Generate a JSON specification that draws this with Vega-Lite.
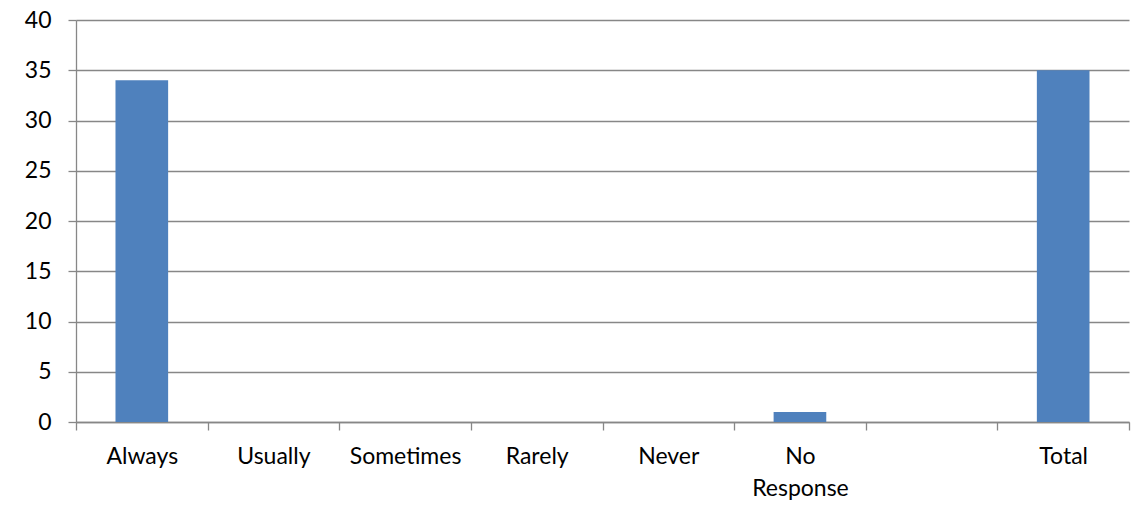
{
  "$schema": "https://vega.github.io/schema/vega-lite/v6.json",
  "width": 1053,
  "height": 402,
  "autosize": {"type": "none"},
  "padding": {"left": 76, "top": 20, "right": 16, "bottom": 95},
  "background": "white",
  "config": {"view": {"stroke": null}, "font": "Lato"},
  "data": {
    "values": [
      {"category": "Always", "count": 34},
      {"category": "Usually", "count": 0},
      {"category": "Sometimes", "count": 0},
      {"category": "Rarely", "count": 0},
      {"category": "Never", "count": 0},
      {"category": "No Response", "count": 1},
      {"category": " ", "count": 0},
      {"category": "Total", "count": 35}
    ]
  },
  "mark": {"type": "bar", "color": "#4F81BD", "width": {"band": 0.4}},
  "encoding": {
    "x": {
      "field": "category",
      "type": "nominal",
      "sort": null,
      "scale": {"paddingInner": 0, "paddingOuter": 0},
      "axis": {
        "title": null,
        "labelAngle": 0,
        "tickBand": "extent",
        "domainColor": "#878787",
        "tickColor": "#878787",
        "tickSize": 8,
        "domainWidth": 1.3,
        "tickWidth": 1.3,
        "labelFont": "Lato",
        "labelFontSize": 23,
        "labelColor": "#000000",
        "labelPadding": 15,
        "labelLineHeight": 32,
        "labelOverlap": false,
        "labelExpr": "datum.value == 'No Response' ? ['No', 'Response'] : datum.label",
        "grid": false
      }
    },
    "y": {
      "field": "count",
      "type": "quantitative",
      "scale": {"domain": [0, 40]},
      "axis": {
        "title": null,
        "values": [0, 5, 10, 15, 20, 25, 30, 35, 40],
        "grid": true,
        "gridColor": "#878787",
        "gridWidth": 1.3,
        "domainColor": "#878787",
        "domainWidth": 1.3,
        "tickColor": "#878787",
        "tickWidth": 1.3,
        "tickSize": 8,
        "labelFont": "Lato",
        "labelFontSize": 23,
        "labelColor": "#000000",
        "labelPadding": 17
      }
    }
  }
}
